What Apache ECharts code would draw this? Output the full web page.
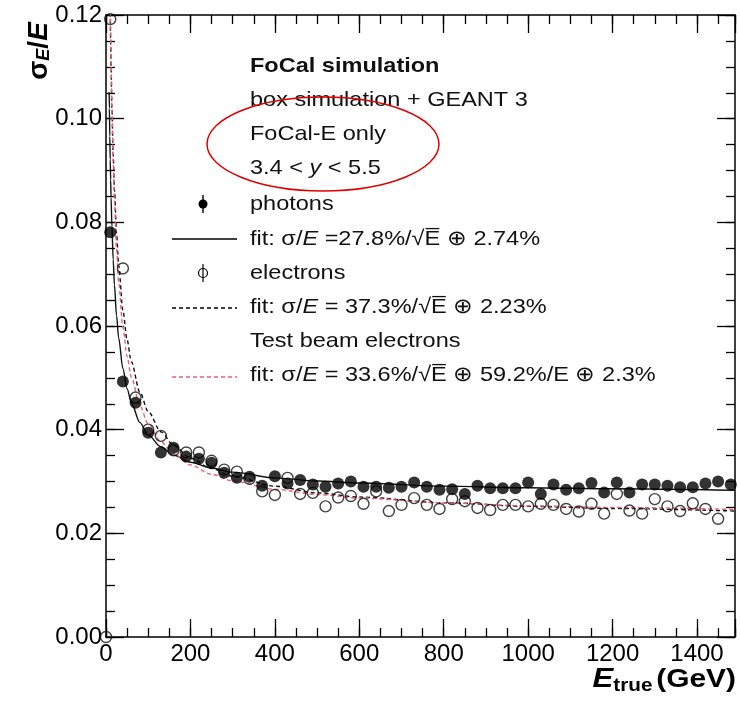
<!DOCTYPE html>
<html>
<head>
<meta charset="utf-8">
<script src="https://cdn.jsdelivr.net/npm/echarts@6.0.0/dist/echarts.min.js"></script>
<style>
html, body { margin: 0; padding: 0; background: #fff; }
#chart { width: 740px; height: 701px; }
</style>
</head>
<body>
<div id="chart"></div>
<script>
// photons (filled markers), E in GeV
const photonEnergy = [10, 40, 70, 100, 130, 160, 190, 220, 250, 280, 310, 340, 370, 400, 430, 460, 490, 520, 550, 580,
    610, 640, 670, 700, 730, 760, 790, 820, 850, 880, 910, 940, 970, 1000, 1030, 1060, 1090, 1120, 1150, 1180,
    1210, 1240, 1270, 1300, 1330, 1360, 1390, 1420, 1450, 1480]
const photonSigma = [0.0781, 0.0493, 0.0452, 0.0394, 0.0356, 0.0365, 0.0348, 0.0344, 0.0336, 0.0317, 0.0307, 0.0309, 0.0292, 0.0310, 0.0296, 0.0303, 0.0294, 0.0290, 0.0296, 0.0300,
    0.0290, 0.0290, 0.0288, 0.0290, 0.0298, 0.0290, 0.0284, 0.0285, 0.0276, 0.0292, 0.0287, 0.0287, 0.0287, 0.0298, 0.0276, 0.0294, 0.0284, 0.0287, 0.0297, 0.0279,
    0.0298, 0.0279, 0.0294, 0.0294, 0.0292, 0.0289, 0.0289, 0.0296, 0.0300, 0.0294]

// electrons (open markers)
const electronEnergy = [0, 10, 40, 70, 100, 130, 160, 190, 220, 250, 280, 310, 340, 370, 400, 430, 460, 490, 520, 550, 580,
    610, 640, 670, 700, 730, 760, 790, 820, 850, 880, 910, 940, 970, 1000, 1030, 1060, 1090, 1120, 1150, 1180,
    1210, 1240, 1270, 1300, 1330, 1360, 1390, 1420, 1450]
const electronSigma = [0, 0.1192, 0.0711, 0.0462, 0.0400, 0.0388, 0.0360, 0.0356, 0.0356, 0.0340, 0.0323, 0.0319, 0.0305, 0.0281, 0.0274, 0.0307, 0.0276, 0.0278, 0.0252, 0.0269, 0.0272,
    0.0257, 0.0281, 0.0243, 0.0255, 0.0268, 0.0255, 0.0247, 0.0266, 0.0262, 0.0249, 0.0245, 0.0255, 0.0255, 0.0252, 0.0257, 0.0255, 0.0247, 0.0242, 0.0257, 0.0238,
    0.0276, 0.0244, 0.0238, 0.0266, 0.0252, 0.0243, 0.0258, 0.0247, 0.0228]

// fit curves
const fitEnergy = [7.5, 8, 9, 10, 11, 12, 14, 17, 20, 25, 30, 40, 50, 60, 80, 100, 130, 160, 200, 250, 300, 400, 500, 600, 800, 1000, 1200, 1490]
const photonFit = [0.1051, 0.1020, 0.0966, 0.0921, 0.0882, 0.0848, 0.0792, 0.0728, 0.0679, 0.0620, 0.0577, 0.0518, 0.0479, 0.0452, 0.0414, 0.0390, 0.0367, 0.0351, 0.0337, 0.0326, 0.0318, 0.0307, 0.0301, 0.0297, 0.0291, 0.0288, 0.0286, 0.0283]
const electronFit = [0.1380, 0.1337, 0.1263, 0.1200, 0.1147, 0.1100, 0.1021, 0.0932, 0.0863, 0.0779, 0.0717, 0.0630, 0.0573, 0.0531, 0.0473, 0.0435, 0.0396, 0.0370, 0.0345, 0.0325, 0.0310, 0.0291, 0.0278, 0.0270, 0.0259, 0.0252, 0.0248, 0.0243]
const testBeamFit = [0.1477, 0.1418, 0.1319, 0.1238, 0.1170, 0.1112, 0.1019, 0.0916, 0.0840, 0.0749, 0.0684, 0.0597, 0.0541, 0.0501, 0.0447, 0.0411, 0.0377, 0.0353, 0.0332, 0.0314, 0.0301, 0.0285, 0.0275, 0.0268, 0.0259, 0.0253, 0.0250, 0.0246]

const xTicks = [0, 200, 400, 600, 800, 1000, 1200, 1400]
const yTicks = [0, 0.02, 0.04, 0.06, 0.08, 0.10, 0.12]

const FONT = '"Liberation Sans", Arial, Helvetica, sans-serif'
const PINK = '#ee5b77'
const LEGEND_SIZE = 21
// the original text is a little wider than Liberation Sans at the same height
const TEXT_STRETCH = 1.12

const zip = (xs, ys) => xs.map((x, i) => [x, ys[i]])

// ROOT style frame: ticks point inward on all four sides.
// Minor ticks are drawn by extra axes, since echarts minor ticks always point outward.
const frameAxis = (max, interval, position, tickLength, showLine) => ({
    type: 'value',
    min: 0,
    max: max,
    interval: interval,
    position: position,
    axisLine: { show: showLine, onZero: false, lineStyle: { color: '#000', width: 1.5 } },
    axisTick: { inside: true, length: tickLength, lineStyle: { color: '#000', width: 1.3 } },
    axisLabel: { show: false },
    splitLine: { show: false },
})

const tickLabel = {
    show: true,
    color: '#000',
    fontFamily: FONT,
    fontSize: 24,
}

const legendText = (y, text, extra) => ({
    type: 'text',
    x: 250,
    y: y,
    scaleX: TEXT_STRETCH,
    style: {
        text: text,
        fontFamily: FONT,
        fontSize: LEGEND_SIZE,
        fill: '#111',
        align: 'left',
        verticalAlign: 'middle',
        rich: {
            i: { fontStyle: 'italic', fontFamily: FONT, fontSize: LEGEND_SIZE, fill: '#111' },
        },
        ...extra,
    },
})

const chart = echarts.init(document.getElementById('chart'), null, { renderer: 'canvas' })

chart.setOption({
    animation: false,
    backgroundColor: '#fff',
    grid: { left: 106, right: 5, top: 15, bottom: 64 },
    xAxis: [
        {
            ...frameAxis(1490, 200, 'bottom', 18, true),
            axisLabel: {
                ...tickLabel,
                margin: 5,
                formatter: v => (xTicks.includes(v) ? String(v) : ''),
            },
        },
        frameAxis(1490, 200, 'top', 18, true),
        frameAxis(1490, 50, 'bottom', 9, false),
        frameAxis(1490, 50, 'top', 9, false),
    ],
    yAxis: [
        {
            ...frameAxis(0.12, 0.02, 'left', 18, true),
            axisLabel: {
                ...tickLabel,
                margin: 4,
                formatter: v => (yTicks.some(t => Math.abs(t - v) < 1e-9) ? v.toFixed(2) : ''),
            },
        },
        frameAxis(0.12, 0.02, 'right', 18, true),
        frameAxis(0.12, 0.005, 'left', 9, false),
        frameAxis(0.12, 0.005, 'right', 9, false),
    ],
    series: [
        {
            name: 'photon fit',
            type: 'line',
            data: zip(fitEnergy, photonFit),
            showSymbol: false,
            smooth: 0.3,
            smoothMonotone: 'x',
            lineStyle: { color: '#111', width: 1.4 },
            z: 2,
        },
        {
            name: 'electron fit',
            type: 'line',
            data: zip(fitEnergy, electronFit),
            showSymbol: false,
            smooth: 0.3,
            smoothMonotone: 'x',
            lineStyle: { color: '#111', width: 1.4, type: [4, 3] },
            z: 2,
        },
        {
            name: 'test beam fit',
            type: 'line',
            data: zip(fitEnergy, testBeamFit),
            showSymbol: false,
            smooth: 0.3,
            smoothMonotone: 'x',
            lineStyle: { color: PINK, width: 1.4, type: [4, 3] },
            z: 2,
        },
        {
            name: 'electrons',
            type: 'scatter',
            data: zip(electronEnergy, electronSigma),
            symbol: 'circle',
            symbolSize: 11,
            itemStyle: { color: 'rgba(0,0,0,0)', borderColor: '#111', borderWidth: 1.4 },
            z: 3,
        },
        {
            name: 'photons',
            type: 'scatter',
            data: zip(photonEnergy, photonSigma),
            symbol: 'circle',
            symbolSize: 12,
            itemStyle: { color: '#000' },
            z: 4,
        },
    ],
    graphic: [
        // axis titles
        {
            type: 'text',
            x: 39,
            y: 51,
            rotation: Math.PI / 2,
            style: {
                text: '{s|σ}{sub|E}{s|/}{e|E}',
                align: 'center',
                verticalAlign: 'middle',
                rich: {
                    s: { fontFamily: FONT, fontSize: 28, fontWeight: 'bold', fill: '#000' },
                    e: { fontFamily: FONT, fontSize: 28, fontWeight: 'bold', fontStyle: 'italic', fill: '#000' },
                    sub: { fontFamily: FONT, fontSize: 18, fontWeight: 'bold', fontStyle: 'italic', fill: '#000', padding: [11, 0, 0, 0] },
                },
            },
        },
        {
            type: 'text',
            x: 736,
            y: 680,
            scaleX: 1.15,
            style: {
                text: '{e|E}{sub|true} {b|(GeV)}',
                align: 'right',
                verticalAlign: 'middle',
                rich: {
                    e: { fontFamily: FONT, fontSize: 27, fontWeight: 'bold', fontStyle: 'italic', fill: '#000' },
                    b: { fontFamily: FONT, fontSize: 26, fontWeight: 'bold', fill: '#000' },
                    sub: { fontFamily: FONT, fontSize: 18, fontWeight: 'bold', fill: '#000', padding: [12, 0, 0, 0] },
                },
            },
        },
        // legend
        legendText(66, 'FoCal simulation', { fontWeight: 'bold' }),
        legendText(100, 'box simulation + GEANT 3'),
        legendText(134, 'FoCal-E only'),
        legendText(168, '3.4 < {i|y} < 5.5'),
        legendText(204, 'photons'),
        legendText(239, 'fit: σ/{i|E} =27.8%/√E\u0305 ⊕ 2.74%'),
        legendText(273, 'electrons'),
        legendText(307, 'fit: σ/{i|E} = 37.3%/√E\u0305 ⊕ 2.23%'),
        legendText(341, 'Test beam electrons'),
        legendText(375, 'fit: σ/{i|E} = 33.6%/√E\u0305 ⊕ 59.2%/E ⊕ 2.3%'),
        { type: 'line', shape: { x1: 203, y1: 195, x2: 203, y2: 213 }, style: { stroke: '#000', lineWidth: 1.4 } },
        { type: 'circle', shape: { cx: 203, cy: 204, r: 4.5 }, style: { fill: '#000' } },
        { type: 'line', shape: { x1: 172, y1: 239, x2: 237, y2: 239 }, style: { stroke: '#000', lineWidth: 1.4 } },
        { type: 'line', shape: { x1: 203, y1: 264, x2: 203, y2: 282 }, style: { stroke: '#000', lineWidth: 1.2 } },
        { type: 'circle', shape: { cx: 203, cy: 273, r: 4.5 }, style: { fill: 'none', stroke: '#000', lineWidth: 1.2 } },
        { type: 'line', shape: { x1: 172, y1: 308, x2: 237, y2: 308 }, style: { stroke: '#000', lineWidth: 1.4, lineDash: [4, 3] } },
        { type: 'line', shape: { x1: 172, y1: 377, x2: 237, y2: 377 }, style: { stroke: PINK, lineWidth: 1.4, lineDash: [4, 3] } },
        // red ellipse
        { type: 'ellipse', shape: { cx: 323, cy: 144, rx: 116, ry: 47 }, style: { fill: 'none', stroke: '#e00000', lineWidth: 1.5 }, z: 10 },
    ],
})
</script>
</body>
</html>
